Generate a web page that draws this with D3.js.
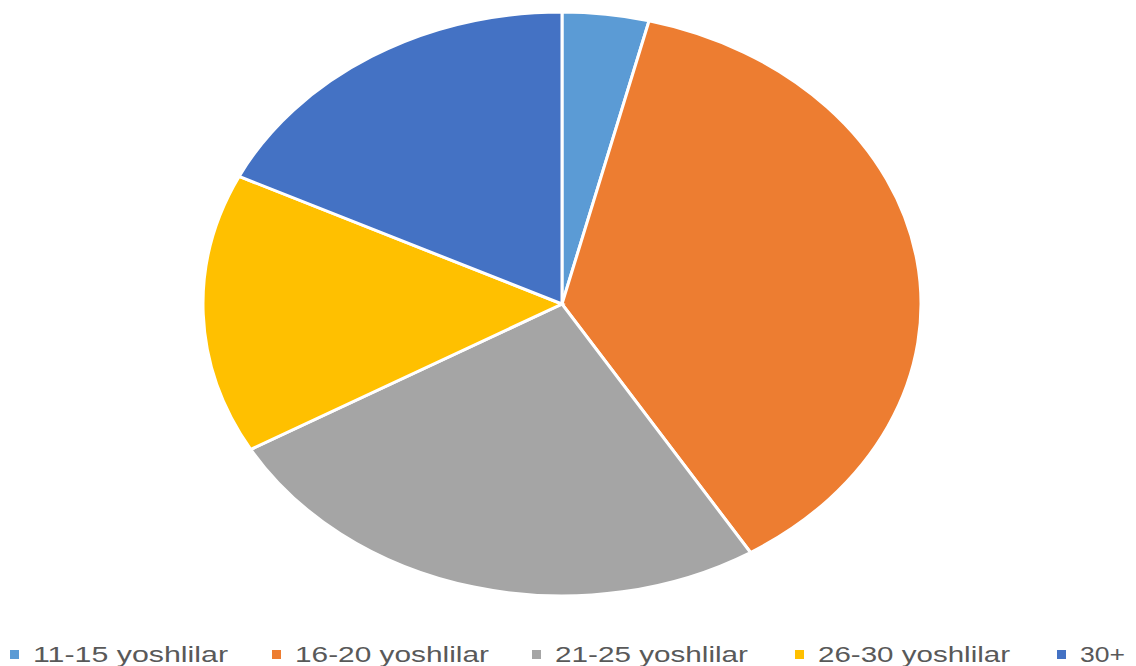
<!DOCTYPE html>
<html><head><meta charset="utf-8">
<script src="https://cdn.jsdelivr.net/npm/d3@7"></script>
<style>body{margin:0;background:#fff}svg{display:block}</style>
</head><body>
<svg id="c" width="1136" height="666"></svg>
<script>
const categories = ["11-15 yoshlilar","16-20 yoshlilar","21-25 yoshlilar","26-30 yoshlilar","30+"];
const values = [3.9, 37.3, 25.5, 15.5, 17.8];
const colors = ["#5B9BD5","#ED7D31","#A5A5A5","#FFC000","#4472C4"];

const svg = d3.select("#c");
const cx = 562, cy = 304, rx = 359, ry = 292;
const pie = d3.pie().sort(null).value(d => d)(values);
const arc = d3.arc().innerRadius(0).outerRadius(ry);
const g = svg.append("g").attr("transform", `translate(${cx},${cy}) scale(${rx/ry},1)`);
g.selectAll("path").data(pie).join("path")
  .attr("d", arc)
  .attr("fill", (d,i) => colors[i])
  .attr("stroke", "#fff")
  .attr("stroke-width", 3)
  .attr("vector-effect", "non-scaling-stroke");

const legX = [10, 272, 532, 795, 1057];
const textW = [195, 194, 193, 192, 45];
const lg = svg.append("g");
categories.forEach((c,i) => {
  lg.append("rect").attr("x", legX[i]).attr("y", 650).attr("width", 9).attr("height", 9).attr("fill", colors[i]);
  lg.append("text").attr("x", legX[i] + 23).attr("y", 662)
    .attr("font-family", "Liberation Sans, Arial, sans-serif").attr("font-size", 22)
    .attr("fill", "#595959")
    .attr("textLength", textW[i]).attr("lengthAdjust", "spacingAndGlyphs")
    .text(c);
});
</script>
</body></html>
